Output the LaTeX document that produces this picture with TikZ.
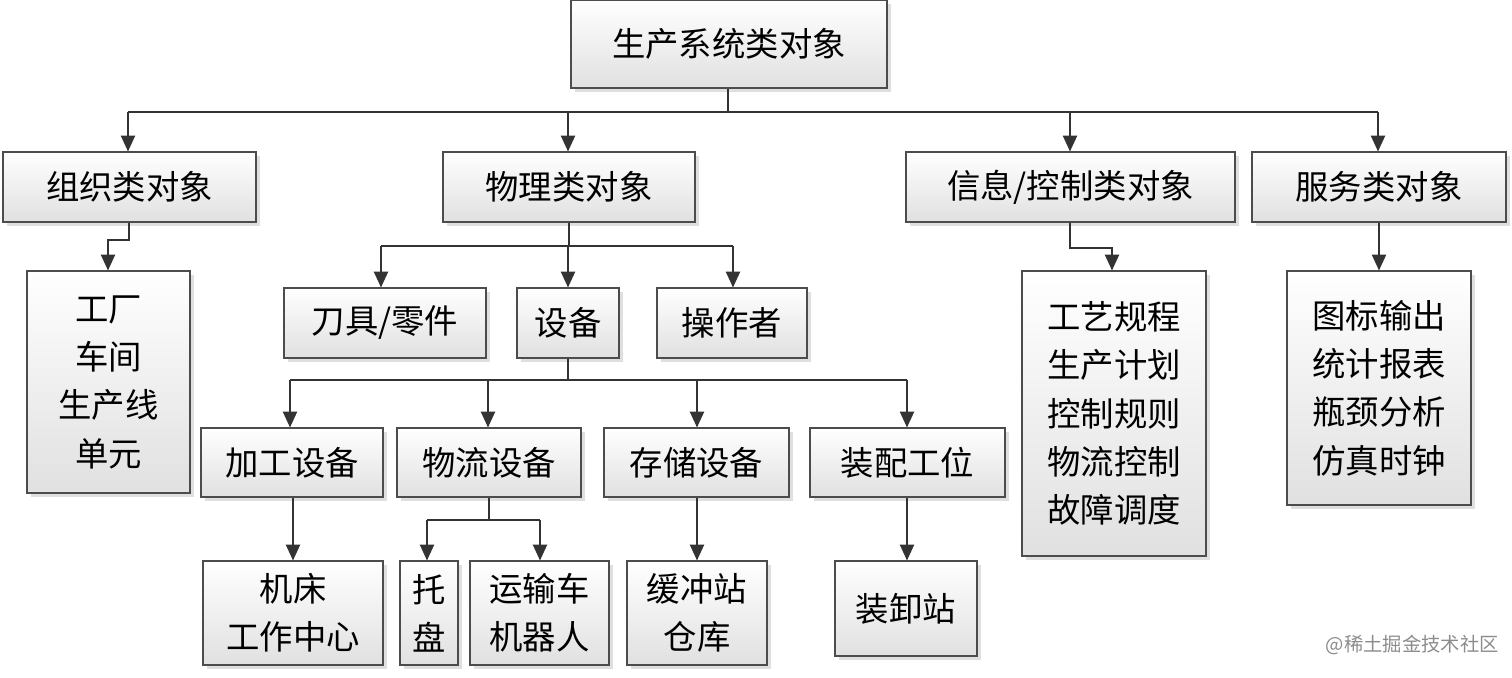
\documentclass[tikz,border=0pt]{standalone}
\usepackage{fontspec}
\setmainfont{Noto Sans CJK SC}
\usetikzlibrary{shadows,arrows.meta}
\begin{document}
\begin{tikzpicture}[x=0.02cm,y=-0.02cm,
  box/.style={draw=black!70,line width=0.6pt,top color=white,bottom color=black!12,
    drop shadow={shadow xshift=2pt,shadow yshift=-2pt,fill=black!25},
    align=center,inner sep=0pt,font=\fontsize{19}{27.5}\selectfont},
  con/.style={draw=black!80,line width=1.1pt},
  arr/.style={con,-{Triangle[length=9pt,width=8pt]}}]
\useasboundingbox (0,0) rectangle (1512,677);
\newcommand\bx[6]{%
  \pgfmathsetmacro\bw{(#4-#2)*0.02}\pgfmathsetmacro\bh{(#5-#3)*0.02}%
  \node[box,minimum width=\bw cm,minimum height=\bh cm] (#1) at ({(#2+#4)/2},{(#3+#5)/2}) {#6};}
\bx{root}{571}{0}{887}{88}{生产系统类对象}
\bx{zz}{3}{152}{256}{222}{组织类对象}
\bx{wl}{443}{152}{695}{222}{物理类对象}
\bx{xx}{906}{152}{1235}{222}{信息/控制类对象}
\bx{fw}{1252}{152}{1506}{222}{服务类对象}
\bx{gc}{27}{271}{190}{493}{工厂\\车间\\生产线\\单元}
\bx{dj}{284}{288}{486}{358}{刀具/零件}
\bx{sb}{517}{288}{619}{358}{设备}
\bx{cz}{657}{288}{807}{358}{操作者}
\bx{jg}{201}{428}{383}{497}{加工设备}
\bx{wlsb}{397}{428}{581}{497}{物流设备}
\bx{cc}{604}{428}{789}{497}{存储设备}
\bx{zp}{810}{428}{1005}{497}{装配工位}
\bx{jc}{203}{561}{383}{665}{机床\\工作中心}
\bx{tp}{400}{561}{458}{665}{托\\盘}
\bx{ys}{470}{561}{609}{665}{运输车\\机器人}
\bx{hc}{627}{561}{767}{665}{缓冲站\\仓库}
\bx{zx}{835}{561}{977}{656}{装卸站}
\bx{gy}{1022}{271}{1206}{556}{工艺规程\\生产计划\\控制规则\\物流控制\\故障调度}
\bx{tb}{1287}{271}{1471}{505}{图标输出\\统计报表\\瓶颈分析\\仿真时钟}
% connectors
\coordinate (r1) at (728,112);
\draw[con] (root.south -| r1) -- (r1);
\draw[con] (128,112) -- (1378,112);
\foreach \n/\x in {zz/128,wl/568,xx/1070,fw/1378} \draw[arr] (\x,112) -- (\n.north -| \x,0);
\coordinate (z1) at (129,240);
\draw[arr] (zz.south -| z1) -- (z1) -- (108,240) -- (gc.north -| 108,0);
\coordinate (w1) at (569,246);
\draw[con] (wl.south -| w1) -- (w1);
\draw[con] (381,246) -- (733,246);
\foreach \n/\x in {dj/381,sb/568,cz/733} \draw[arr] (\x,246) -- (\n.north -| \x,0);
\coordinate (s1) at (568,380);
\draw[con] (sb.south -| s1) -- (s1);
\draw[con] (290,380) -- (907,380);
\foreach \n/\x in {jg/290,wlsb/488,cc/697,zp/907} \draw[arr] (\x,380) -- (\n.north -| \x,0);
\draw[arr] (jg.south -| 293,0) -- (jc.north -| 293,0);
\coordinate (l1) at (489,520);
\draw[con] (wlsb.south -| l1) -- (l1);
\draw[con] (427,520) -- (540,520);
\draw[arr] (427,520) -- (tp.north -| 427,0);
\draw[arr] (540,520) -- (ys.north -| 540,0);
\draw[arr] (cc.south -| 697,0) -- (hc.north -| 697,0);
\draw[arr] (zp.south -| 907,0) -- (zx.north -| 907,0);
\coordinate (x1) at (1070,248);
\draw[arr] (xx.south -| x1) -- (x1) -- (1112,248) -- (gy.north -| 1112,0);
\draw[arr] (fw.south -| 1379,0) -- (tb.north -| 1379,0);
\node[text=black!45,font=\fontsize{11}{13}\selectfont,anchor=east] (wm) at (1505,645) {@稀土掘金技术社区};
\end{tikzpicture}
\end{document}
